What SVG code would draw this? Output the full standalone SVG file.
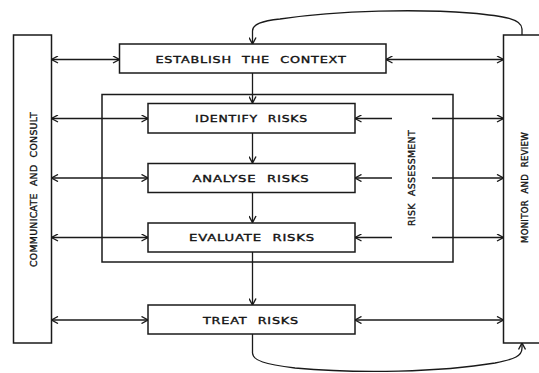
<svg xmlns="http://www.w3.org/2000/svg" width="539" height="373" viewBox="0 0 539 373">
  <style>
    .box { fill: #ffffff; stroke: #1a1a1a; stroke-width: 1.5; }
    .frame { fill: none; stroke: #1a1a1a; stroke-width: 1.5; }
    .lbl { font-family: "DejaVu Sans", "Liberation Sans", sans-serif; font-size: 9.5px; fill: #111111; stroke: #111111; stroke-width: 0.35; text-anchor: middle; dominant-baseline: central; letter-spacing: 0.6px; word-spacing: 4px; }
    .side { letter-spacing: 0.3px; word-spacing: 4px; }
    .wire { fill: none; stroke: #1a1a1a; stroke-width: 1.3; }
  </style>
  <defs>
    <marker id="chev" viewBox="0 0 8 8" refX="7.5" refY="4" markerWidth="8" markerHeight="8" markerUnits="userSpaceOnUse" orient="auto-start-reverse">
      <path d="M1,0.5 L7.5,4 L1,7.5" fill="none" stroke="#1a1a1a" stroke-width="1.4"/>
    </marker>
  </defs>
  <rect width="539" height="373" fill="#ffffff"/>

  <!-- risk assessment frame -->
  <g id="risk-assessment">
    <rect class="frame" x="102" y="94.5" width="351" height="167.5"/>
    <text class="lbl side" transform="translate(411.7,178) rotate(-90)" textLength="96" lengthAdjust="spacingAndGlyphs">RISK ASSESSMENT</text>
  </g>

  <!-- connectors -->
  <g id="connectors">
    <!-- main flow -->
    <line class="wire" x1="252.5" y1="73" x2="252.5" y2="103" marker-end="url(#chev)"/>
    <line class="wire" x1="252.5" y1="133" x2="252.5" y2="163" marker-end="url(#chev)"/>
    <line class="wire" x1="252.5" y1="192.5" x2="252.5" y2="222.5" marker-end="url(#chev)"/>
    <line class="wire" x1="252.5" y1="252" x2="252.5" y2="305" marker-end="url(#chev)"/>
    <!-- communicate and consult links -->
    <line class="wire" x1="51.5" y1="59.5" x2="119.5" y2="59.5" marker-start="url(#chev)" marker-end="url(#chev)"/>
    <line class="wire" x1="51.5" y1="118.5" x2="148" y2="118.5" marker-start="url(#chev)" marker-end="url(#chev)"/>
    <line class="wire" x1="51.5" y1="178" x2="148" y2="178" marker-start="url(#chev)" marker-end="url(#chev)"/>
    <line class="wire" x1="51.5" y1="237.5" x2="148" y2="237.5" marker-start="url(#chev)" marker-end="url(#chev)"/>
    <line class="wire" x1="51.5" y1="320" x2="148" y2="320" marker-start="url(#chev)" marker-end="url(#chev)"/>
    <!-- monitor and review links -->
    <line class="wire" x1="386" y1="59.5" x2="503.5" y2="59.5" marker-start="url(#chev)" marker-end="url(#chev)"/>
    <line class="wire" x1="392" y1="118.5" x2="355" y2="118.5" marker-end="url(#chev)"/>
    <line class="wire" x1="432" y1="118.5" x2="503.5" y2="118.5" marker-end="url(#chev)"/>
    <line class="wire" x1="392" y1="178" x2="355" y2="178" marker-end="url(#chev)"/>
    <line class="wire" x1="432" y1="178" x2="503.5" y2="178" marker-end="url(#chev)"/>
    <line class="wire" x1="392" y1="237.5" x2="355" y2="237.5" marker-end="url(#chev)"/>
    <line class="wire" x1="432" y1="237.5" x2="503.5" y2="237.5" marker-end="url(#chev)"/>
    <line class="wire" x1="355" y1="320" x2="503.5" y2="320" marker-start="url(#chev)" marker-end="url(#chev)"/>
    <!-- feedback loops -->
    <path class="wire" d="M522,35 V29 C522,19 505,16 470,13 C420,9 340,10 280,19 C262,21 252.5,24 252.5,31 V44" marker-end="url(#chev)"/>
    <path class="wire" d="M252.5,334 V353 C253,361 265,364 295,368 C360,374 440,372 495,363 C515,359 522,356 522,348 V343" marker-end="url(#chev)"/>
  </g>

  <g id="communicate">
    <rect class="box" x="13.5" y="35" width="38" height="308"/>
    <text class="lbl side" transform="translate(33.3,189.5) rotate(-90)" textLength="155" lengthAdjust="spacingAndGlyphs">COMMUNICATE AND CONSULT</text>
  </g>

  <g id="monitor">
    <rect class="box" x="503.5" y="35" width="40" height="308"/>
    <text class="lbl side" transform="translate(524,187.5) rotate(-90)" textLength="111" lengthAdjust="spacingAndGlyphs">MONITOR AND REVIEW</text>
  </g>

  <g id="establish">
    <rect class="box" x="119.5" y="44" width="266.5" height="29"/>
    <text class="lbl" x="251" y="59.5" textLength="191" lengthAdjust="spacingAndGlyphs">ESTABLISH THE CONTEXT</text>
  </g>

  <g id="identify">
    <rect class="box" x="148" y="103.5" width="207" height="29.5"/>
    <text class="lbl" x="251.5" y="118.5" textLength="113" lengthAdjust="spacingAndGlyphs">IDENTIFY RISKS</text>
  </g>

  <g id="analyse">
    <rect class="box" x="148" y="163.5" width="207" height="29"/>
    <text class="lbl" x="251" y="178" textLength="117" lengthAdjust="spacingAndGlyphs">ANALYSE RISKS</text>
  </g>

  <g id="evaluate">
    <rect class="box" x="148" y="223" width="207" height="29"/>
    <text class="lbl" x="252" y="237.5" textLength="126" lengthAdjust="spacingAndGlyphs">EVALUATE RISKS</text>
  </g>

  <g id="treat">
    <rect class="box" x="148" y="305" width="207" height="29"/>
    <text class="lbl" x="251" y="320" textLength="96" lengthAdjust="spacingAndGlyphs">TREAT RISKS</text>
  </g>
</svg>
